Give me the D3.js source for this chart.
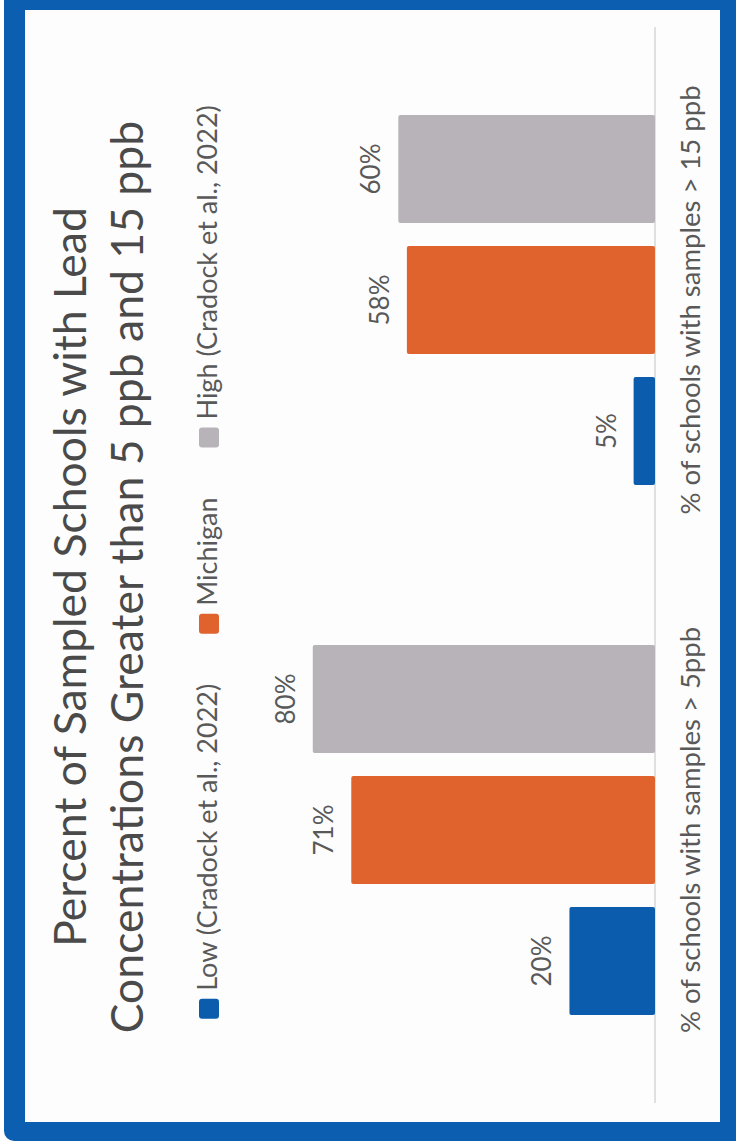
<!DOCTYPE html>
<html>
<head>
<meta charset="utf-8">
<script src="https://cdn.jsdelivr.net/npm/d3@7"></script>
<style>
  body { margin: 0; background: #ffffff; }
  text { font-family: Lato, "Open Sans", sans-serif; }
</style>
</head>
<body>
<div id="container"></div>
<script>
// chart data
var titleLines = ["Percent of Sampled Schools with Lead", "Concentrations Greater than 5 ppb and 15 ppb"];
var categories = ["% of schools with samples > 5ppb", "% of schools with samples > 15 ppb"];
var seriesNames = ["Low (Cradock et al., 2022)", "Michigan", "High (Cradock et al., 2022)"];
var lowValues = [0.20, 0.05];
var michiganValues = [0.71, 0.58];
var highValues = [0.80, 0.60];
var seriesColors = ["#0b5cad", "#e0622c", "#b7b3b8"];

(function () {
    var W = 736, H = 1147;

    var svg = d3.select("#container")
        .append("svg")
        .attr("width", W)
        .attr("height", H);

    // blue frame + panel
    svg.append("rect")
        .attr("x", 4).attr("y", -12)
        .attr("width", W - 4 + 12).attr("height", 1141 + 12)
        .attr("rx", 10)
        .attr("fill", "#0c5fb0");
    svg.append("rect")
        .attr("x", 25).attr("y", 10)
        .attr("width", 695).attr("height", 1112)
        .attr("fill", "#fdfdfd");

    // the chart is drawn upright, then turned a quarter left
    var g = svg.append("g")
        .attr("transform", "translate(0," + H + ") rotate(-90)");

    var rows = categories.map(function (c, i) {
        return { cat: c, values: [lowValues[i], michiganValues[i], highValues[i]] };
    });

    var x0 = d3.scaleBand()
        .domain(categories)
        .range([52, 1112]);

    var x1 = d3.scaleBand()
        .domain(seriesNames)
        .range([0, x0.bandwidth()])
        .paddingInner(0.176)
        .paddingOuter(0.611);

    var y = d3.scaleLinear()
        .domain([0, 0.9])
        .range([655, 270]);

    var color = d3.scaleOrdinal()
        .domain(seriesNames)
        .range(seriesColors);

    // title
    g.selectAll(".title")
        .data(titleLines)
        .enter()
        .append("text")
        .attr("class", "title")
        .attr("x", 570)
        .attr("y", function (d, i) { return 86 + i * 57; })
        .attr("text-anchor", "middle")
        .style("font-size", "44.5px")
        .style("fill", "#4a4a4a")
        .text(function (d) { return d; });

    // legend
    var legend = g.append("g");
    var items = legend.selectAll(".item")
        .data(seriesNames)
        .enter()
        .append("g")
        .attr("class", "item");
    items.append("rect")
        .attr("width", 20).attr("height", 20)
        .attr("y", 199)
        .attr("rx", 3)
        .attr("fill", function (d) { return color(d); });
    items.append("text")
        .attr("x", 28)
        .attr("y", 217)
        .style("font-size", "27px")
        .style("fill", "#595959")
        .text(function (d) { return d; });
    var pos = 0;
    items.each(function () {
        var w = d3.select(this).select("text").node().getComputedTextLength();
        d3.select(this).attr("transform", "translate(" + pos + ",0)");
        pos += 28 + w + 50;
    });
    var legendWidth = pos - 50;
    legend.attr("transform", "translate(" + (585 - legendWidth / 2) + ",0)");

    // baseline
    g.append("line")
        .attr("x1", x0.range()[0] - 8)
        .attr("x2", x0.range()[1] + 8)
        .attr("y1", y(0)).attr("y2", y(0))
        .style("stroke", "#d6d6d6")
        .style("stroke-width", 1.5);

    // bars
    var groups = g.selectAll(".grp")
        .data(rows)
        .enter()
        .append("g")
        .attr("class", "grp")
        .attr("transform", function (d) { return "translate(" + x0(d.cat) + ",0)"; });

    var cells = groups.selectAll(".bar")
        .data(function (d) {
            return d.values.map(function (v, i) { return { key: seriesNames[i], value: v }; });
        })
        .enter();

    cells.append("rect")
        .attr("class", "bar")
        .attr("x", function (d) { return x1(d.key); })
        .attr("y", function (d) { return y(d.value); })
        .attr("width", x1.bandwidth())
        .attr("height", function (d) { return y(0) - y(d.value); })
        .attr("rx", 2)
        .style("fill", function (d) { return color(d.key); });

    cells.append("text")
        .attr("x", function (d) { return x1(d.key) + x1.bandwidth() / 2; })
        .attr("y", function (d) { return y(d.value) - 18; })
        .attr("text-anchor", "middle")
        .style("font-size", "26px")
        .style("fill", "#595959")
        .text(function (d) { return d3.format(".0%")(d.value); });

    // category labels
    g.selectAll(".cat")
        .data(categories)
        .enter()
        .append("text")
        .attr("class", "cat")
        .attr("x", function (d) { return x0(d) + x0.bandwidth() / 2; })
        .attr("y", 700)
        .attr("text-anchor", "middle")
        .style("font-size", "27.5px")
        .style("fill", "#595959")
        .text(function (d) { return d; });
})();
</script>
</body>
</html>
